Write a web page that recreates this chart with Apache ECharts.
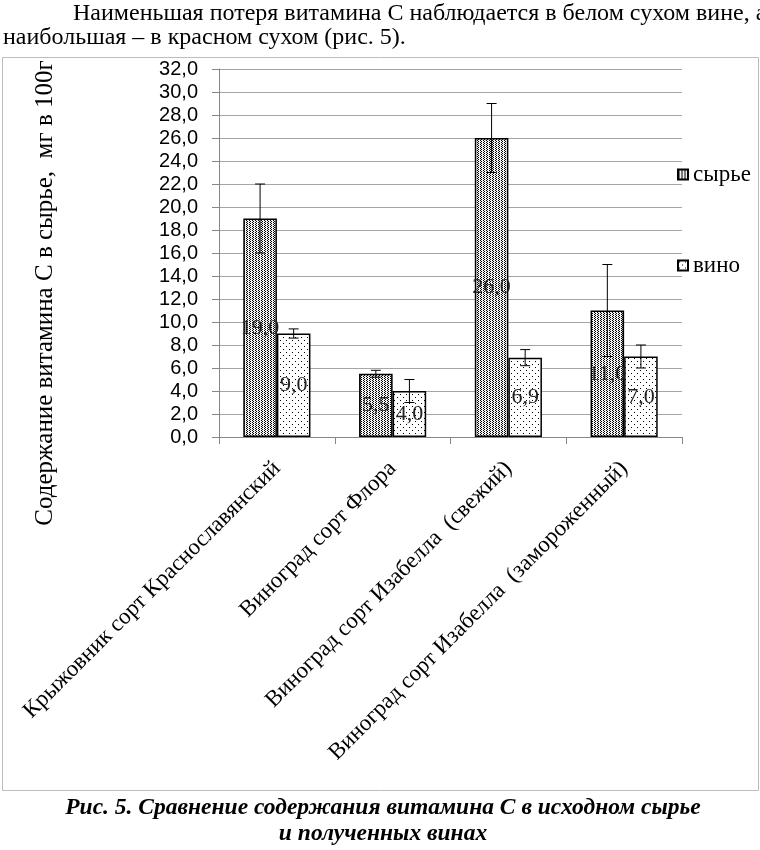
<!DOCTYPE html>
<html>
<head>
<meta charset="utf-8">
<script src="https://cdn.jsdelivr.net/npm/echarts@6/dist/echarts.min.js"></script>
<style>html,body{margin:0;padding:0;background:#fff}#c{width:760px;height:850px}</style>
</head>
<body>
<div id="c"></div>
<script>
const categories = [
  'Крыжовник сорт Краснославянский',
  'Виноград сорт Флора',
  'Виноград сорт Изабелла  (свежий)',
  'Виноград сорт Изабелла  (замороженный)'
];
const seriesNames = ['сырье', 'вино'];
const rawValues = [19.0, 5.5, 26.0, 11.0];
const wineValues = [9.0, 4.0, 6.9, 7.0];
const rawErrors = [3.0, 0.3, 3.0, 4.0];
const wineErrors = [0.4, 1.0, 0.7, 1.0];
const yTicks = {min: 0, max: 32, interval: 2};
const headingLines = [
  'Наименьшая потеря витамина С наблюдается в белом сухом вине, а',
  'наибольшая – в красном сухом (рис. 5).'
];
const captionLines = [
  'Рис. 5. Сравнение содержания витамина С в исходном сырье',
  'и полученных винах'
];
const yAxisTitle = 'Содержание витамина С в сырье,  мг в 100г';

function makePattern(w, h, dots, bg) {
  const cv = document.createElement('canvas');
  cv.width = w; cv.height = h;
  const ctx = cv.getContext('2d');
  ctx.fillStyle = bg; ctx.fillRect(0, 0, w, h);
  ctx.fillStyle = '#000';
  dots.forEach(d => ctx.fillRect(d[0], d[1], 1, 1));
  return {image: cv, repeat: 'repeat'};
}
const densePattern = makePattern(3, 2, [[0,0],[1,1]], '#f2f2f2');
const sparsePattern = makePattern(6, 6, [[1,1],[4,4]], '#ffffff');

const BAR_FRAC = 0.29;
const fmt = v => Number(v).toFixed(1).replace('.', ',');

function errRender(side) {
  return function (params, api) {
    const i = api.value(0), v = api.value(1), e = api.value(2);
    const band = api.size([1, 0])[0];
    const off = side * band * BAR_FRAC / 2;
    const c = api.coord([i, v]);
    const x = c[0] + off;
    const hi = api.coord([i, v + e])[1];
    const lo = api.coord([i, v - e])[1];
    const cap = 5;
    const st = {stroke: '#000', lineWidth: 1};
    return {type: 'group', children: [
      {type: 'line', shape: {x1: x, y1: hi, x2: x, y2: lo}, style: st},
      {type: 'line', shape: {x1: x - cap, y1: hi, x2: x + cap, y2: hi}, style: st},
      {type: 'line', shape: {x1: x - cap, y1: lo, x2: x + cap, y2: lo}, style: st}
    ]};
  };
}

const serif = 'Liberation Serif';
const labelStyle = {
  show: true, position: 'inside', formatter: p => fmt(p.value),
  fontFamily: serif, fontSize: 22, color: '#222', textBorderWidth: 0
};

const chart = echarts.init(document.getElementById('c'));
chart.setOption({
  animation: false,
  backgroundColor: '#fff',
  grid: {left: 219, right: 78, top: 69, bottom: 413},
  legend: {
    data: seriesNames, orient: 'vertical', left: 672, top: 158,
    itemWidth: 10, itemHeight: 10, itemGap: 68, icon: 'rect',
    textStyle: {fontFamily: serif, fontSize: 23, color: '#000'}
  },
  xAxis: {
    type: 'category', data: categories,
    axisLine: {lineStyle: {color: '#868686'}},
    axisTick: {show: true, length: 7, lineStyle: {color: '#868686'}},
    axisLabel: {rotate: 45, margin: 28, fontFamily: serif, fontSize: 23, color: '#000', interval: 0}
  },
  yAxis: {
    type: 'value', min: yTicks.min, max: yTicks.max, interval: yTicks.interval,
    axisLine: {show: true, lineStyle: {color: '#868686'}},
    axisTick: {show: true, length: 7, lineStyle: {color: '#868686'}},
    splitLine: {lineStyle: {color: '#a6a6a6'}},
    axisLabel: {formatter: fmt, margin: 21, fontFamily: 'Liberation Sans', fontSize: 20, color: '#000'}
  },
  series: [
    {name: seriesNames[0], type: 'bar', data: rawValues, barWidth: (BAR_FRAC*100) + '%', barGap: '0%',
     itemStyle: {color: densePattern, borderColor: '#000', borderWidth: 1.5}, label: labelStyle},
    {name: seriesNames[1], type: 'bar', data: wineValues, barWidth: (BAR_FRAC*100) + '%', barGap: '0%',
     itemStyle: {color: sparsePattern, borderColor: '#000', borderWidth: 1.5}, label: labelStyle},
    {type: 'custom', renderItem: errRender(-1), encode: {x: 0, y: 1}, z: 5,
     data: rawValues.map((v, i) => [i, v, rawErrors[i]])},
    {type: 'custom', renderItem: errRender(1), encode: {x: 0, y: 1}, z: 5,
     data: wineValues.map((v, i) => [i, v, wineErrors[i]])}
  ],
  graphic: [
    {type: 'rect', shape: {x: 2.5, y: 57.5, width: 756, height: 733}, z: -10,
     style: {fill: 'none', stroke: '#bdbdbd', lineWidth: 1}},
    {type: 'text', x: 73, y: 14, style: {text: headingLines[0], fontFamily: serif, fontSize: 24, fill: '#000', verticalAlign: 'middle'}},
    {type: 'text', x: 3, y: 38, style: {text: headingLines[1], fontFamily: serif, fontSize: 24, fill: '#000', verticalAlign: 'middle'}},
    {type: 'text', x: 45, y: 293, rotation: Math.PI / 2,
     style: {text: yAxisTitle, fontFamily: serif, fontSize: 25, fill: '#000', align: 'center', verticalAlign: 'middle'}},
    {type: 'text', x: 383, y: 808, style: {text: captionLines[0], fontFamily: serif, fontSize: 23.5, fontWeight: 'bold', fontStyle: 'italic', fill: '#000', align: 'center', verticalAlign: 'middle'}},
    {type: 'text', x: 383, y: 834, style: {text: captionLines[1], fontFamily: serif, fontSize: 23.5, fontWeight: 'bold', fontStyle: 'italic', fill: '#000', align: 'center', verticalAlign: 'middle'}}
  ]
});
</script>
</body>
</html>
